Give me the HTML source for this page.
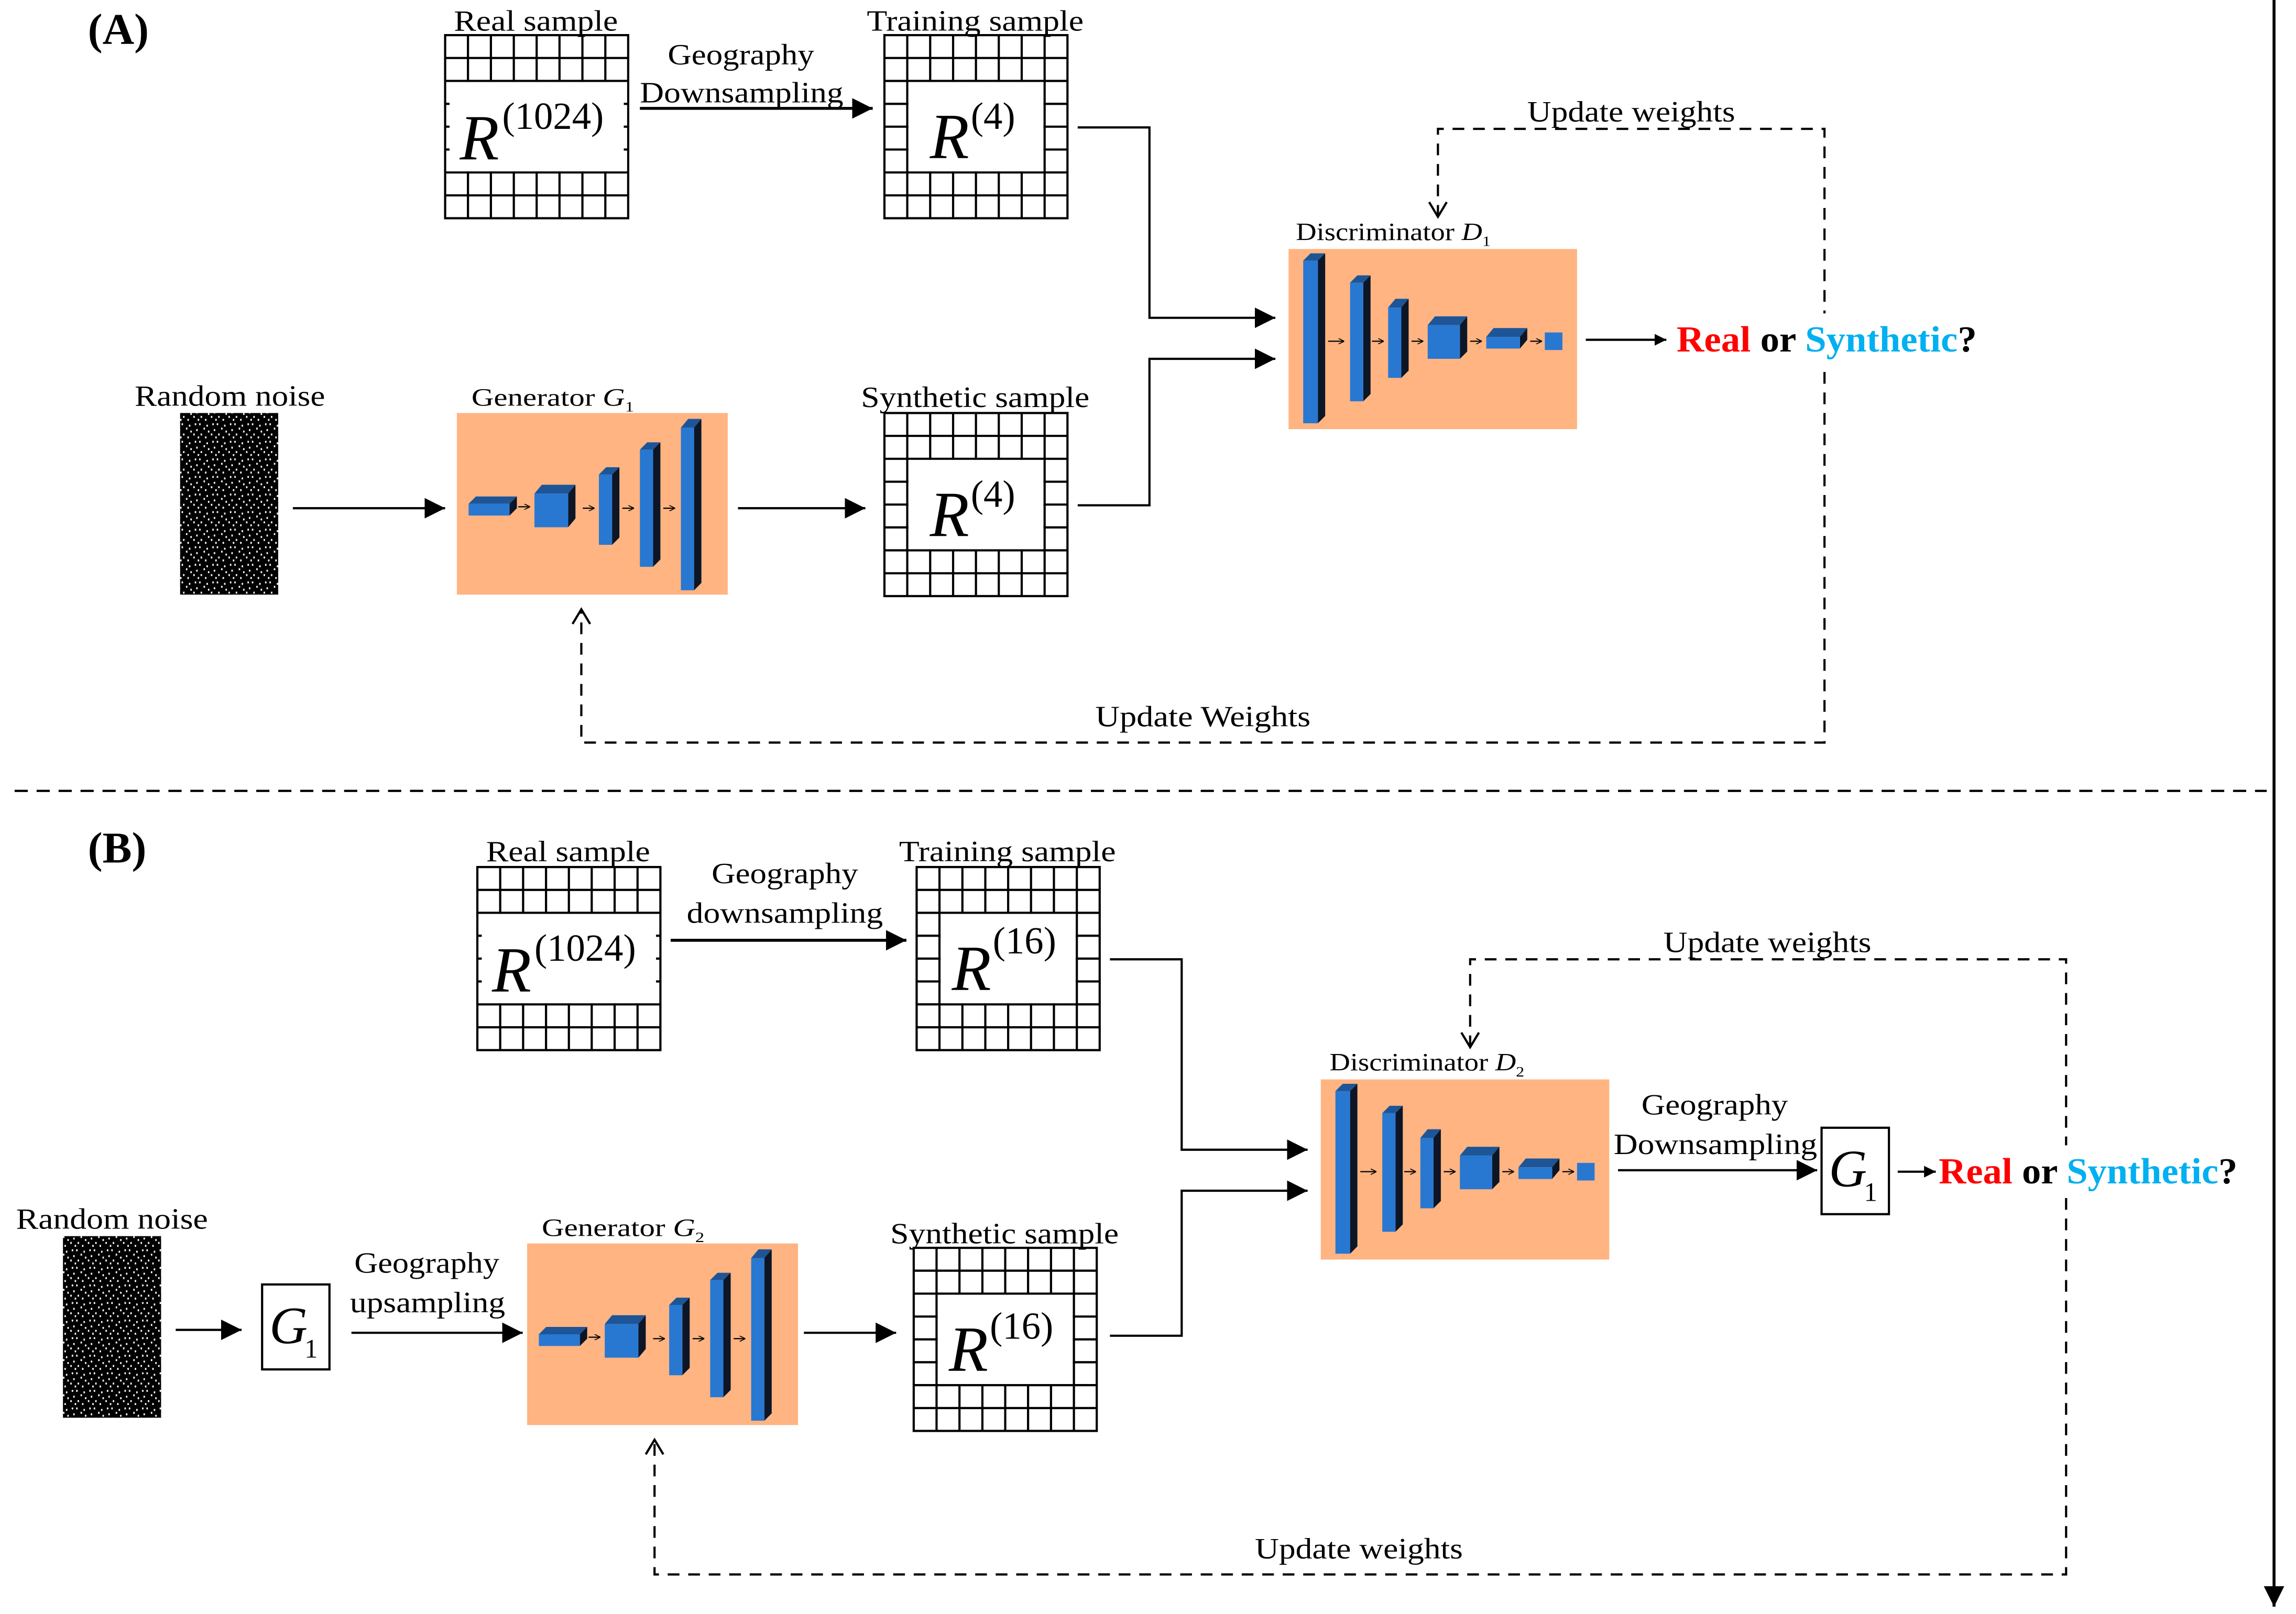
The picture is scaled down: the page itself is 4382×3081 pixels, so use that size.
<!DOCTYPE html>
<html><head><meta charset="utf-8"><style>
html,body{margin:0;padding:0;background:#fff}
svg{display:block}
text{font-family:"Liberation Serif",serif;fill:#000}
</style></head><body>
<svg width="4382" height="3081" viewBox="0 0 1568 1102" preserveAspectRatio="none" xmlns="http://www.w3.org/2000/svg">
<defs>
<marker id="ah" viewBox="0 0 10 10" refX="10" refY="5" markerWidth="8" markerHeight="8" markerUnits="userSpaceOnUse" orient="auto"><path d="M0,0L10,5L0,10z" fill="#000"/></marker>
<marker id="ahb" viewBox="0 0 10 10" refX="10" refY="5" markerWidth="14" markerHeight="14" markerUnits="userSpaceOnUse" orient="auto"><path d="M0,0L10,5L0,10z" fill="#000"/></marker>
<marker id="sm" viewBox="0 0 10 10" refX="10" refY="5" markerWidth="4" markerHeight="4" markerUnits="userSpaceOnUse" orient="auto"><path d="M0,0L10,5L0,10" fill="none" stroke="#000" stroke-width="1.5"/></marker>
<pattern id="noise" width="12" height="12" patternUnits="userSpaceOnUse">
<rect width="12" height="12" fill="#000"/>
<rect x="1" y="1" width="1" height="1.3" fill="#fff"/><rect x="4" y="1" width="1" height="1.3" fill="#fff"/><rect x="9" y="2" width="1" height="1.3" fill="#fff"/>
<rect x="2" y="5" width="1" height="1.3" fill="#fff"/><rect x="7" y="4" width="1" height="1.3" fill="#fff"/><rect x="10" y="6" width="1" height="1.3" fill="#fff"/>
<rect x="0" y="8" width="1" height="1.3" fill="#fff"/><rect x="5" y="8" width="1" height="1.3" fill="#fff"/><rect x="8" y="10" width="1" height="1.3" fill="#fff"/><rect x="3" y="10" width="1" height="1.3" fill="#fff"/>
</pattern>
<g id="gridlines" stroke="#000" stroke-width="1.5" fill="none">
<rect x="0" y="0" width="125" height="125" fill="#fff"/>
<path d="M15.6,0V125M31.25,0V125M46.9,0V125M62.5,0V125M78.1,0V125M93.75,0V125M109.4,0V125M0,15.6H125M0,31.25H125M0,46.9H125M0,62.5H125M0,78.1H125M0,93.75H125M0,109.4H125"/>
</g>
<g id="gfull"><use href="#gridlines"/><rect x="0.8" y="32" width="123.4" height="61" fill="#fff"/><path d="M0,46.9h3M0,62.5h3M0,78.1h3M125,46.9h-3M125,62.5h-3M125,78.1h-3" stroke="#000" stroke-width="1.5"/></g>
<g id="ginner"><use href="#gridlines"/><rect x="16.4" y="32" width="92.2" height="61" fill="#fff"/></g>
<g id="gen">
<rect x="0" y="0" width="185" height="124" fill="#FFB482"/>
<polygon points="8,62 13,57 41,57 36,62" fill="#1D5596"/><polygon points="36,62 41,57 41,65 36,70" fill="#0C1626"/><rect x="8" y="62" width="28" height="8" fill="#2878D2"/>
<polygon points="53,55 58,49 81,49 76,55" fill="#1D5596"/><polygon points="76,55 81,49 81,72 76,78" fill="#0C1626"/><rect x="53" y="55" width="23" height="23" fill="#2878D2"/>
<polygon points="97,42 102,37 111,37 106,42" fill="#1D5596"/><polygon points="106,42 111,37 111,85 106,90" fill="#0C1626"/><rect x="97" y="42" width="9" height="48" fill="#2878D2"/>
<polygon points="125,25 130,20 139,20 134,25" fill="#1D5596"/><polygon points="134,25 139,20 139,100 134,105" fill="#0C1626"/><rect x="125" y="25" width="9" height="80" fill="#2878D2"/>
<polygon points="153,10 158,4 167,4 162,10" fill="#1D5596"/><polygon points="162,10 167,4 167,116 162,121" fill="#0C1626"/><rect x="153" y="10" width="9" height="111" fill="#2878D2"/>
<g stroke="#000" stroke-width="0.8" marker-end="url(#sm)"><line x1="42" y1="64" x2="50" y2="64"/><line x1="86" y1="65" x2="94" y2="65"/><line x1="113" y1="65" x2="121" y2="65"/><line x1="141" y1="65" x2="149" y2="65"/></g>
</g>
<g id="disc">
<rect x="0" y="0" width="197" height="123" fill="#FFB482"/>
<polygon points="10,8 15,3 25,3 20,8" fill="#1D5596"/><polygon points="20,8 25,3 25,114 20,119" fill="#0C1626"/><rect x="10" y="8" width="10" height="111" fill="#2878D2"/>
<polygon points="42,23 47,18 56,18 51,23" fill="#1D5596"/><polygon points="51,23 56,18 56,99 51,104" fill="#0C1626"/><rect x="42" y="23" width="9" height="81" fill="#2878D2"/>
<polygon points="68,40 73,34 82,34 77,40" fill="#1D5596"/><polygon points="77,40 82,34 82,83 77,88" fill="#0C1626"/><rect x="68" y="40" width="9" height="48" fill="#2878D2"/>
<polygon points="95,52 100,46 122,46 117,52" fill="#1D5596"/><polygon points="117,52 122,46 122,70 117,75" fill="#0C1626"/><rect x="95" y="52" width="22" height="23" fill="#2878D2"/>
<polygon points="135,60 140,54 163,54 158,60" fill="#1D5596"/><polygon points="158,60 163,54 163,62 158,68" fill="#0C1626"/><rect x="135" y="60" width="23" height="8" fill="#2878D2"/>
<rect x="175" y="57" width="12" height="12" fill="#2878D2"/>
<g stroke="#000" stroke-width="0.8" marker-end="url(#sm)"><line x1="27" y1="63" x2="38" y2="63"/><line x1="57" y1="63" x2="65" y2="63"/><line x1="84" y1="63" x2="92" y2="63"/><line x1="124" y1="63" x2="132" y2="63"/><line x1="165" y1="63" x2="173" y2="63"/></g>
</g>
</defs>

<!-- (A) -->
<text x="60" y="30" font-size="30" font-weight="bold">(A)</text>
<use href="#gfull" x="304" y="24"/>
<text x="310" y="21" font-size="20" textLength="112" lengthAdjust="spacingAndGlyphs">Real sample</text>
<text x="314" y="109" font-size="44" font-style="italic">R</text><text x="343" y="88" font-size="26">(1024)</text>
<text x="456" y="44" font-size="20" textLength="100" lengthAdjust="spacingAndGlyphs">Geography</text>
<text x="437" y="70" font-size="20" textLength="139" lengthAdjust="spacingAndGlyphs">Downsampling</text>
<line x1="437" y1="74" x2="596" y2="74" stroke="#000" stroke-width="2" marker-end="url(#ahb)"/>
<use href="#ginner" x="604" y="24"/>
<text x="592" y="21" font-size="20" textLength="148" lengthAdjust="spacingAndGlyphs">Training sample</text>
<text x="635" y="108" font-size="44" font-style="italic">R</text><text x="663" y="88" font-size="26">(4)</text>
<polyline points="736,87 785,87 785,217 871,217" fill="none" stroke="#000" stroke-width="1.5" marker-end="url(#ahb)"/>
<text x="885" y="164" font-size="17" textLength="133" lengthAdjust="spacingAndGlyphs">Discriminator  <tspan font-style="italic">D</tspan><tspan font-size="10" dy="4">1</tspan></text>
<use href="#disc" x="880" y="170"/>
<line x1="1083" y1="232" x2="1138" y2="232" stroke="#000" stroke-width="1.5" marker-end="url(#ah)"/>
<polyline points="982,148 982,88 1246,88 1246,507 397,507 397,416" fill="none" stroke="#000" stroke-width="1.5" stroke-dasharray="8,6"/>
<path d="M976,138L982,148L988,138M391,426L397,416L403,426" fill="none" stroke="#000" stroke-width="1.5"/>
<rect x="1143" y="214" width="210" height="36" fill="#fff"/>
<text x="1145" y="240" font-size="25" font-weight="bold" textLength="205" lengthAdjust="spacingAndGlyphs"><tspan fill="#ff0000">Real</tspan> or <tspan fill="#00B0F0">Synthetic</tspan>?</text>
<text x="1043" y="83" font-size="20" textLength="142" lengthAdjust="spacingAndGlyphs">Update weights</text>
<text x="748" y="496" font-size="20" textLength="147" lengthAdjust="spacingAndGlyphs">Update Weights</text>
<text x="92" y="277" font-size="20" textLength="130" lengthAdjust="spacingAndGlyphs">Random noise</text>
<rect x="123" y="282" width="67" height="124" fill="url(#noise)"/>
<line x1="200" y1="347" x2="304" y2="347" stroke="#000" stroke-width="1.5" marker-end="url(#ahb)"/>
<text x="322" y="277" font-size="17" textLength="111" lengthAdjust="spacingAndGlyphs">Generator   <tspan font-style="italic">G</tspan><tspan font-size="10" dy="4">1</tspan></text>
<use href="#gen" x="312" y="282"/>
<line x1="504" y1="347" x2="591" y2="347" stroke="#000" stroke-width="1.5" marker-end="url(#ahb)"/>
<use href="#ginner" x="604" y="282"/>
<text x="588" y="278" font-size="20" textLength="156" lengthAdjust="spacingAndGlyphs">Synthetic sample</text>
<text x="635" y="366" font-size="44" font-style="italic">R</text><text x="663" y="346" font-size="26">(4)</text>
<polyline points="736,345 785,345 785,245 871,245" fill="none" stroke="#000" stroke-width="1.5" marker-end="url(#ahb)"/>

<!-- separators -->
<line x1="10" y1="540" x2="1548" y2="540" stroke="#000" stroke-width="1.5" stroke-dasharray="9,6"/>
<line x1="1553" y1="0" x2="1553" y2="1097" stroke="#000" stroke-width="2" marker-end="url(#ahb)"/>

<!-- (B) -->
<text x="60" y="589" font-size="30" font-weight="bold">(B)</text>
<use href="#gfull" x="326" y="592"/>
<text x="332" y="588" font-size="20" textLength="112" lengthAdjust="spacingAndGlyphs">Real sample</text>
<text x="336" y="677" font-size="44" font-style="italic">R</text><text x="365" y="656" font-size="26">(1024)</text>
<text x="486" y="603" font-size="20" textLength="100" lengthAdjust="spacingAndGlyphs">Geography</text>
<text x="469" y="630" font-size="20" textLength="134" lengthAdjust="spacingAndGlyphs">downsampling</text>
<line x1="458" y1="642" x2="619" y2="642" stroke="#000" stroke-width="2" marker-end="url(#ahb)"/>
<use href="#ginner" x="626" y="592"/>
<text x="614" y="588" font-size="20" textLength="148" lengthAdjust="spacingAndGlyphs">Training sample</text>
<text x="650" y="676" font-size="44" font-style="italic">R</text><text x="678" y="651" font-size="26">(16)</text>
<polyline points="758,655 807,655 807,785 893,785" fill="none" stroke="#000" stroke-width="1.5" marker-end="url(#ahb)"/>
<text x="908" y="731" font-size="17" textLength="133" lengthAdjust="spacingAndGlyphs">Discriminator  <tspan font-style="italic">D</tspan><tspan font-size="10" dy="4">2</tspan></text>
<use href="#disc" x="902" y="737"/>
<text x="1121" y="761" font-size="20" textLength="100" lengthAdjust="spacingAndGlyphs">Geography</text>
<text x="1102" y="788" font-size="20" textLength="139" lengthAdjust="spacingAndGlyphs">Downsampling</text>
<line x1="1105" y1="799" x2="1241" y2="799" stroke="#000" stroke-width="1.5" marker-end="url(#ahb)"/>
<rect x="1244" y="770" width="46" height="59" fill="#fff" stroke="#000" stroke-width="1.5"/>
<text x="1249" y="810" font-size="36" font-style="italic">G</text><text x="1273" y="820" font-size="18">1</text>
<line x1="1296" y1="800" x2="1322" y2="800" stroke="#000" stroke-width="1.5" marker-end="url(#ah)"/>
<polyline points="1004,715 1004,655 1411,655 1411,1075 447,1075 447,983" fill="none" stroke="#000" stroke-width="1.5" stroke-dasharray="8,6"/>
<path d="M998,705L1004,715L1010,705M441,993L447,983L453,993" fill="none" stroke="#000" stroke-width="1.5"/>
<rect x="1323" y="782" width="208" height="36" fill="#fff"/>
<text x="1324" y="808" font-size="25" font-weight="bold" textLength="204" lengthAdjust="spacingAndGlyphs"><tspan fill="#ff0000">Real</tspan> or <tspan fill="#00B0F0">Synthetic</tspan>?</text>
<text x="1136" y="650" font-size="20" textLength="142" lengthAdjust="spacingAndGlyphs">Update weights</text>
<text x="857" y="1064" font-size="20" textLength="142" lengthAdjust="spacingAndGlyphs">Update weights</text>
<text x="11" y="839" font-size="20" textLength="131" lengthAdjust="spacingAndGlyphs">Random noise</text>
<rect x="43" y="844" width="67" height="124" fill="url(#noise)"/>
<line x1="120" y1="908" x2="165" y2="908" stroke="#000" stroke-width="1.5" marker-end="url(#ahb)"/>
<rect x="179" y="877" width="46" height="58" fill="#fff" stroke="#000" stroke-width="1.5"/>
<text x="184" y="917" font-size="36" font-style="italic">G</text><text x="208" y="927" font-size="18">1</text>
<text x="242" y="869" font-size="20" textLength="99" lengthAdjust="spacingAndGlyphs">Geography</text>
<text x="239" y="896" font-size="20" textLength="106" lengthAdjust="spacingAndGlyphs">upsampling</text>
<line x1="240" y1="910" x2="357" y2="910" stroke="#000" stroke-width="1.5" marker-end="url(#ahb)"/>
<text x="370" y="844" font-size="17" textLength="111" lengthAdjust="spacingAndGlyphs">Generator   <tspan font-style="italic">G</tspan><tspan font-size="10" dy="4">2</tspan></text>
<use href="#gen" x="360" y="849"/>
<line x1="549" y1="910" x2="612" y2="910" stroke="#000" stroke-width="1.5" marker-end="url(#ahb)"/>
<use href="#ginner" x="624" y="852"/>
<text x="608" y="849" font-size="20" textLength="156" lengthAdjust="spacingAndGlyphs">Synthetic sample</text>
<text x="648" y="936" font-size="44" font-style="italic">R</text><text x="676" y="914" font-size="26">(16)</text>
<polyline points="758,912 807,912 807,813 893,813" fill="none" stroke="#000" stroke-width="1.5" marker-end="url(#ahb)"/>
</svg>
</body></html>
